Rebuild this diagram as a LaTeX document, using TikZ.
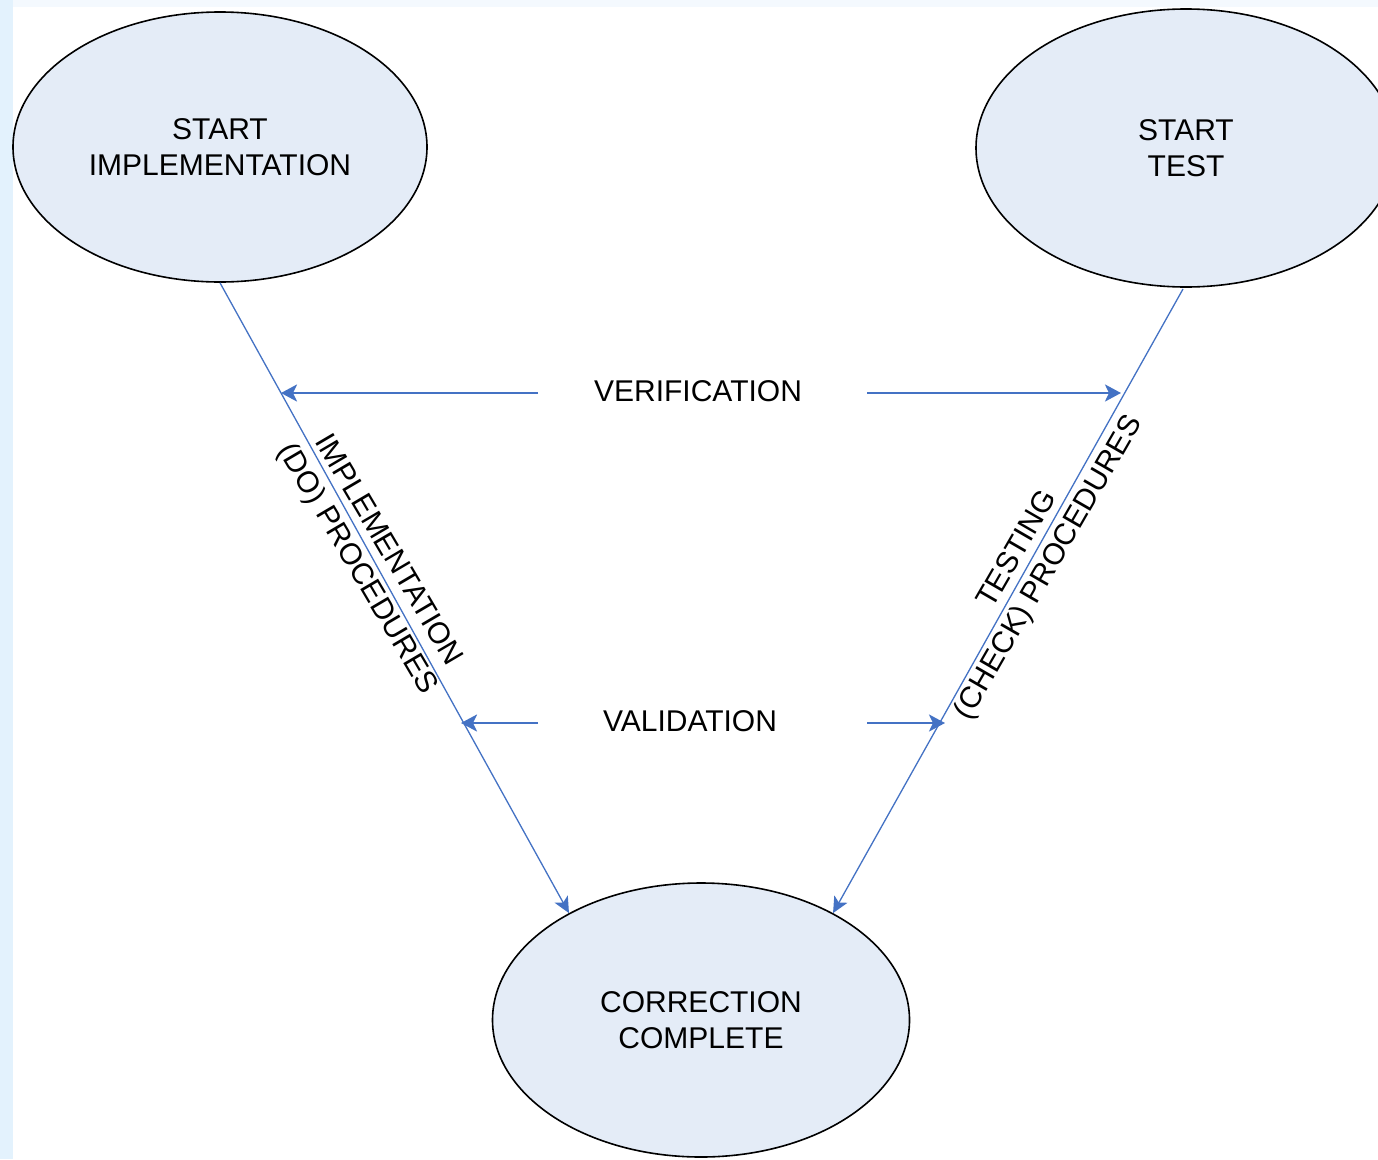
\documentclass[tikz,border=0pt]{standalone}
\usepackage{fontspec}
\setmainfont{Liberation Sans}
\usetikzlibrary{arrows.meta,shapes.geometric}
\definecolor{lineblue}{HTML}{4472C4}
\definecolor{ellfill}{HTML}{E4ECF7}
\definecolor{frameblue}{HTML}{E3F2FD}
\definecolor{topframe}{HTML}{F4F9FE}
\tikzset{
  state/.style={ellipse, draw=black, line width=1.6pt, fill=ellfill, inner sep=0pt, align=center,
    font=\fontsize{30}{36}\selectfont},
  lbl/.style={font=\fontsize{30}{36}\selectfont, inner sep=0pt, align=center},
  flow/.style={draw=lineblue, line width=1.3pt, -{Stealth[length=16pt,width=15pt,inset=4pt]}},
  relation/.style={draw=lineblue, line width=2.4pt, -{Stealth[length=16pt,width=17pt,inset=4pt]}}
}
\begin{document}
\begin{tikzpicture}[x=1pt,y=-1pt]
\useasboundingbox (0,0) rectangle (1378,1159);
\fill[white] (0,0) rectangle (1378,1159);
\fill[topframe] (0,0) rectangle (1378,7);
\fill[frameblue] (0,0) rectangle (13,1159);
\begin{scope}
\clip (0,0) rectangle (1378,1159);
\node[state, minimum width=414pt, minimum height=270pt] (impl) at (220,147) {START\\IMPLEMENTATION};
\node[state, minimum width=420pt, minimum height=278pt] (test) at (1186,148) {START\\TEST};
\node[state, minimum width=417pt, minimum height=274pt] (corr) at (701,1020) {CORRECTION\\COMPLETE};
\end{scope}
\draw[flow] (impl.south) -- (corr.141);
\draw[flow] (1183,289) -- (corr.39);
\node[lbl] (ver) at (698,391) {VERIFICATION};
\node[lbl] (val) at (690,721) {VALIDATION};
\coordinate (verLs) at (538,393);
\coordinate (verLe) at (281,393);
\coordinate (verRs) at (867,393);
\coordinate (verRe) at (1121,393);
\coordinate (valLs) at (538,723);
\coordinate (valLe) at (461,723);
\coordinate (valRs) at (867,723);
\coordinate (valRe) at (945,723);
\draw[relation] (verLs) -- (verLe);
\draw[relation] (verRs) -- (verRe);
\draw[relation] (valLs) -- (valLe);
\draw[relation] (valRs) -- (valRe);
\node[lbl, rotate=-59.5] (doproc) at (372,560) {IMPLEMENTATION\\(DO) PROCEDURES};
\node[lbl, rotate=60] (chkproc) at (1034,559) {TESTING\\(CHECK) PROCEDURES};
\end{tikzpicture}
\end{document}
